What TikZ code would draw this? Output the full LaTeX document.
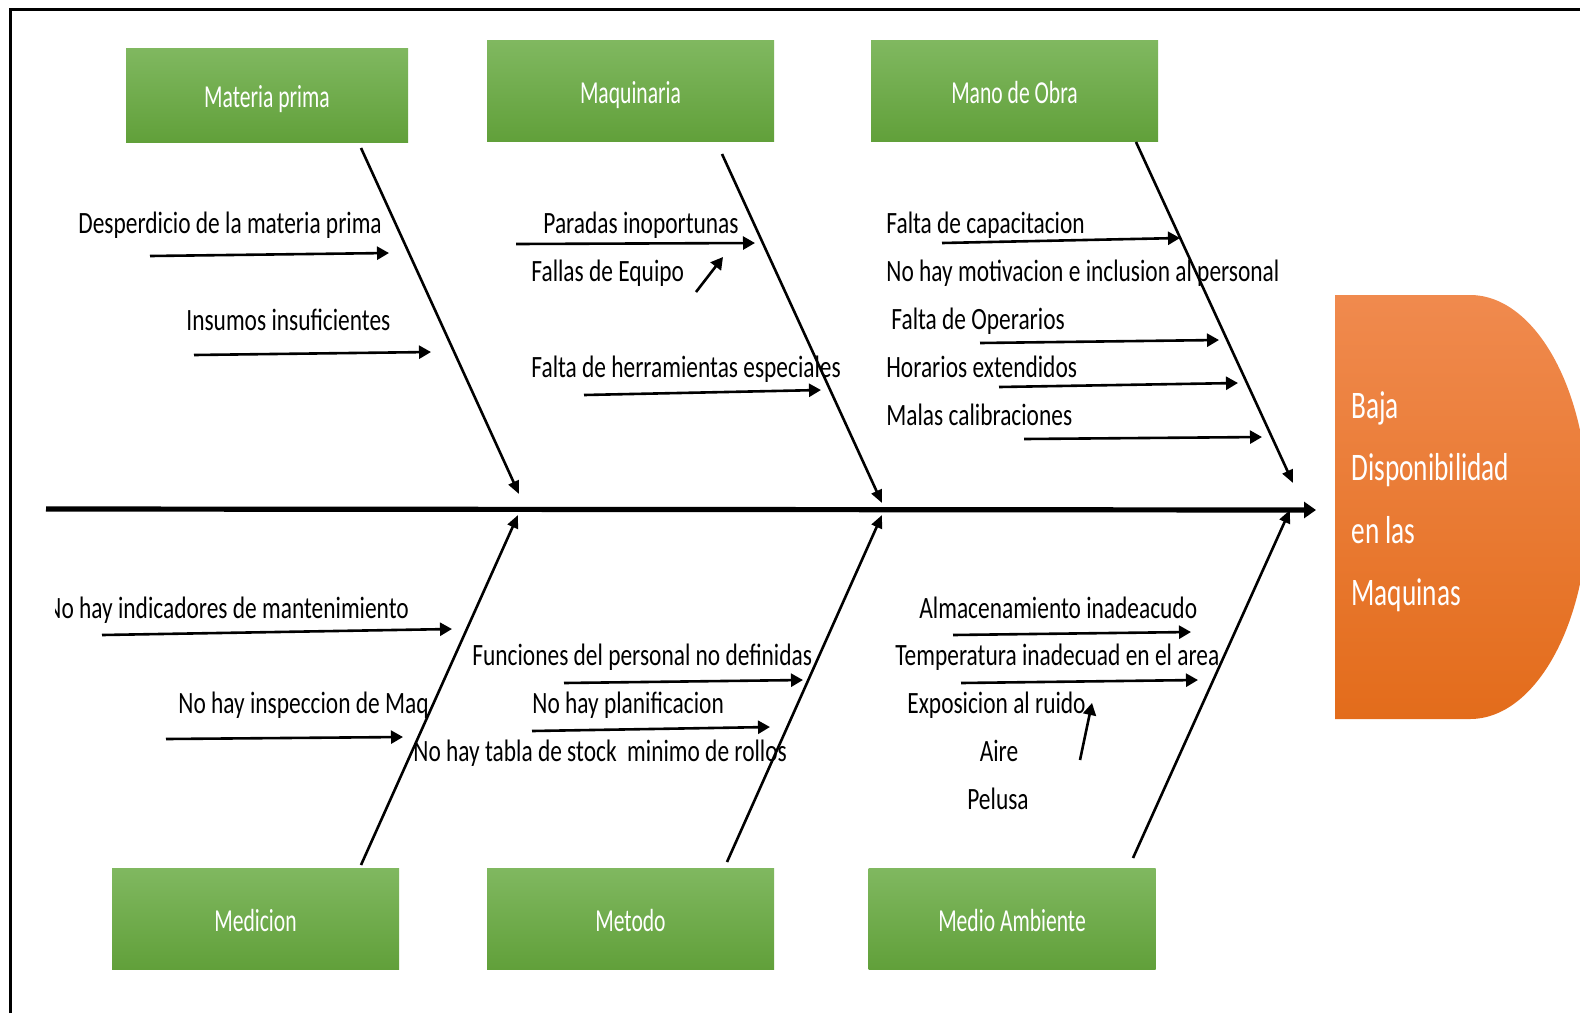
\documentclass[tikz,border=0pt]{standalone}
\usepackage{fontspec}
\setmainfont{Carlito}
\newfontfamily\lblfont[FakeStretch=0.755]{Carlito}
\newfontfamily\boxfont[FakeStretch=0.675]{Carlito}
\newfontfamily\bigfont[FakeStretch=0.70]{Carlito}
\usetikzlibrary{arrows.meta}
\definecolor{gtop}{HTML}{80B860}
\definecolor{gbot}{HTML}{61A03A}
\definecolor{otop}{HTML}{F08A4E}
\definecolor{obot}{HTML}{E36C1B}
\begin{document}
\begin{tikzpicture}[x=0.5pt,y=-0.5pt,
  catbox/.style={minimum width=143.5pt,minimum height=50.5pt,inner sep=0pt,
    text height=12.6pt,text depth=0pt,
    top color=gtop,bottom color=gbot,text=white,font=\boxfont\fontsize{16}{19}\selectfont},
  lbl/.style={inner sep=0pt,anchor=base west,font=\lblfont\fontsize{15.5}{18}\selectfont},
  clbl/.style={lbl,anchor=base},
  biglbl/.style={inner sep=0pt,anchor=base west,text=white,font=\bigfont\fontsize{19.5}{23}\selectfont},
  cause/.style={line width=1.3pt,-{Triangle[length=6pt,width=6.5pt]}},
  bone/.style={line width=1.3pt,-{Triangle[length=6.5pt,width=5.5pt]}},
  spine/.style={line width=2.6pt,-{Triangle[length=6pt,width=8pt]}}]
\useasboundingbox (0,0) rectangle (1580,1013);
\fill[white] (0,0) rectangle (1580,1013);
% frame
\draw[line width=1.5pt] (10,1013) -- (10,9) -- (1580,9);

% category boxes
\node[catbox,minimum width=141pt,minimum height=47pt] (mp) at (267,95) {Materia prima};
\node[catbox] (mq) at (630.5,91) {Maquinaria};
\node[catbox] (mo) at (1014.5,91) {Mano de Obra};
\node[catbox] (me) at (255.5,918.5) {Medicion};
\node[catbox] (mt) at (630.5,918.5) {Metodo};
\node[catbox] (ma) at (1012,918.5) {Medio Ambiente};

% effect shape
\begin{scope}
\clip (0,0) rectangle (1580,1013);
\shade[top color=otop,bottom color=obot] (1335,295) -- (1470,295)
  arc[start angle=-90,end angle=90,x radius=118,y radius=212] -- (1335,719) -- cycle;
\end{scope}
\node[biglbl] (ef1) at (1351,418) {Baja};
\node[biglbl] (ef2) at (1351,480) {Disponibilidad};
\node[biglbl] (ef3) at (1351,543) {en las};
\node[biglbl] (ef4) at (1351,605) {Maquinas};

% spine
\coordinate (sp0) at (46,509);
\coordinate (sp1) at (1316,510);
\draw[spine] (sp0) -- (sp1);

% bones
\foreach \n/\xa/\ya/\xb/\yb in {bmp/361/148/519/494, bmq/722/154/882/503, bmo/1136/142/1293/483,
  bme/361/865/518/515, bmt/727/862/882/515, bma/1133/858/1290/510}{
  \coordinate (\n s) at (\xa,\ya);
  \coordinate (\n e) at (\xb,\yb);
  \draw[bone] (\n s) -- (\n e);
}

% cause arrows
\foreach \n/\xa/\ya/\xb/\yb in {a1/150/256/389/253, a2/194/355/431/352, a3/516/244/755/243,
  a4/696/292/723/257, a5/584/395/821/390, a6/942/243/1180/238, a7/980/343/1219/340,
  a8/999/387/1238/383, a9/1024/439/1262/437, b1/102/635/452/629, b2/166/739/403/737,
  b3/564/683/803/680, b4/532/731/770/727, b5/953/635/1191/632, b6/961/683/1198/680,
  b7/1080/760/1092/703}{
  \coordinate (\n s) at (\xa,\ya);
  \coordinate (\n e) at (\xb,\yb);
  \draw[cause] (\n s) -- (\n e);
}

% labels
\node[lbl] (t1) at (78,233) {Desperdicio de la materia prima};
\node[lbl] (t2) at (186,330) {Insumos insuficientes};
\node[lbl] (t3) at (543,233) {Paradas inoportunas};
\node[lbl] (t4) at (531,281) {Fallas de Equipo};
\node[lbl] (t5) at (531,377) {Falta de herramientas especiales};
\node[lbl] (t6) at (886,233) {Falta de capacitacion};
\node[lbl] (t7) at (886,281) {No hay motivacion e inclusion al personal};
\node[lbl] (t8) at (891,329) {Falta de Operarios};
\node[lbl] (t9) at (886,377) {Horarios extendidos};
\node[lbl] (t10) at (886,425) {Malas calibraciones};
\begin{scope}
\clip (55,580) rectangle (500,640);
\node[lbl] (t11) at (46,618) {No hay indicadores de mantenimiento};
\end{scope}
\node[lbl] (t12) at (178,713) {No hay inspeccion de Maq};
\node[lbl] (t13) at (472,665) {Funciones del personal no definidas};
\node[lbl] (t14) at (532,713) {No hay planificacion};
\node[lbl] (t15) at (413,761) {No hay tabla de stock\ \ minimo de rollos};
\node[lbl] (t16) at (919,618) {Almacenamiento inadeacudo};
\node[lbl] (t17) at (895,665) {Temperatura inadecuad en el area};
\node[lbl] (t18) at (907,713) {Exposicion al ruido};
\node[clbl] (t19) at (999,761) {Aire};
\node[clbl] (t20) at (998,809) {Pelusa};
\end{tikzpicture}
\end{document}
